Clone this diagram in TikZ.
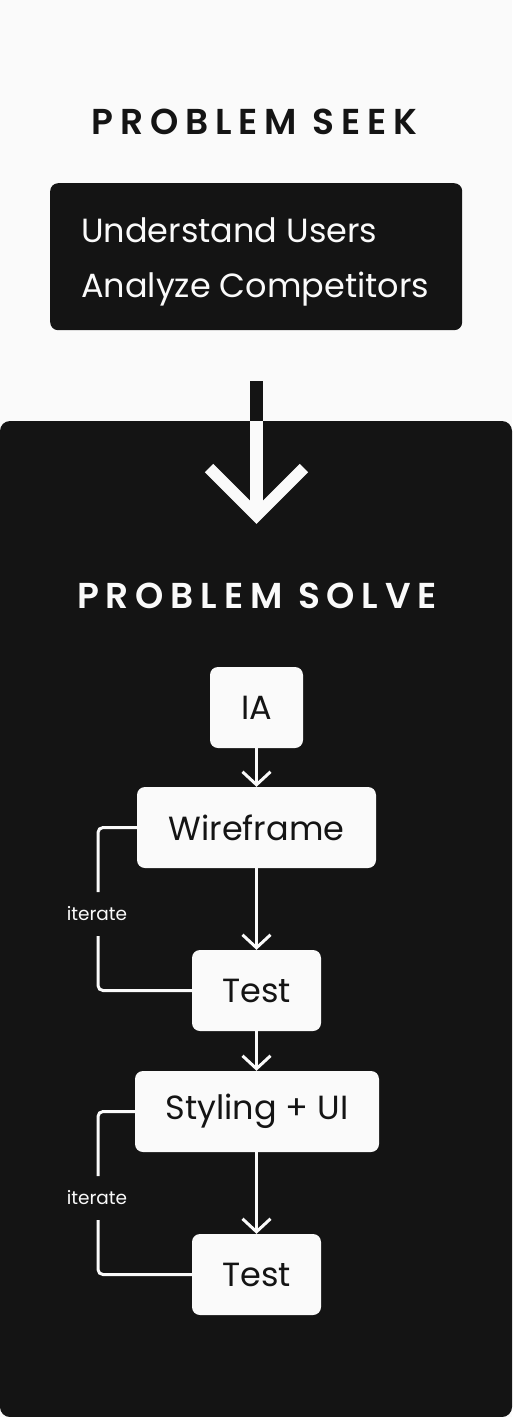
\documentclass[tikz,border=0pt]{standalone}
\usepackage{fontspec}
\setmainfont{Poppins}
\newfontfamily\headfont[LetterSpace=19]{Poppins SemiBold}
\newfontfamily\bodyfont{Poppins}
\usetikzlibrary{arrows.meta}
\definecolor{bgc}{HTML}{FAFAFA}
\definecolor{dark}{HTML}{141414}
\begin{document}
\begin{tikzpicture}[x=1pt,y=-1pt,
  heading/.style={text=dark,font=\headfont\fontsize{36}{42}\selectfont,inner sep=0pt},
  stepbox/.style={fill=bgc,rounded corners=8pt,text=dark,minimum height=81pt,inner sep=0pt,font=\bodyfont\fontsize{33.5}{38}\selectfont},
  flow/.style={draw=bgc,line width=3pt,-{Straight Barb[length=13pt,width=28pt,line width=3pt]}},
  loop/.style={draw=bgc,line width=3pt,rounded corners=5pt},
  loopnote/.style={text=bgc,font=\bodyfont\fontsize{18.5}{22}\selectfont,inner sep=0pt}
]
\useasboundingbox (0,0) rectangle (512,1417);
\fill[bgc] (0,0) rectangle (512,1417);
% dark panel
\fill[dark,rounded corners=10pt] (0,421) rectangle (512,1417);

\node[heading] (seek) at (254.5,122) {PROBLEM SEEK};
\node[fill=dark,rounded corners=8pt,anchor=north west,minimum width=412pt,minimum height=147pt,inner sep=0pt] (users) at (50,183) {};
\node[text=bgc,anchor=west,align=left,inner sep=0pt,font=\bodyfont\fontsize{33.5}{55}\selectfont] (userstext) at ([xshift=31pt,yshift=-5pt]users.west) {Understand Users\\Analyze Competitors};

% big arrow
\coordinate (a0) at (256.5,381);
\coordinate (a1) at (256.5,421);
\coordinate (a2) at (256.5,512);
\coordinate (tipL) at (209,468);
\coordinate (tip) at (256.5,515.5);
\coordinate (tipR) at (304,468);
\draw[dark,line width=12.5pt] (a0) -- (a1);
\draw[bgc,line width=12.5pt] (a1) -- (a2);
\draw[bgc,line width=12pt,miter limit=10] (tipL) -- (tip) -- (tipR);

\node[heading,text=bgc] (solve) at (257,596) {PROBLEM SOLVE};

\node[stepbox,minimum width=93pt] (ia) at (256.5,707.5) {IA};
\node[stepbox,minimum width=239pt] (wire) at (256.5,827.5) {Wireframe};
\node[stepbox,minimum width=129pt] (test1) at (256.5,990.5) {Test};
\node[stepbox,minimum width=244pt] (style) at (257,1111.5) {Styling + UI};
\node[stepbox,minimum width=129pt] (test2) at (256.5,1274.5) {Test};

\draw[flow] (ia.south -| 256.5,0) -- (wire.north -| 256.5,0);
\draw[flow] (wire.south -| 256.5,0) -- (test1.north -| 256.5,0);
\draw[flow] (test1.south -| 256.5,0) -- (style.north -| 256.5,0);
\draw[flow] (style.south -| 256.5,0) -- (test2.north -| 256.5,0);

\node[loopnote] (it1) at (97,914) {iterate};
\node[loopnote] (it2) at (97,1198) {iterate};

\coordinate (l1a) at (98,892);
\coordinate (l1b) at (98,936);
\draw[loop] (wire.west) -- (wire.west -| l1a) -- (l1a);
\draw[loop] (l1b) -- (l1b |- test1.west) -- (test1.west);
\coordinate (l2a) at (98,1176);
\coordinate (l2b) at (98,1220);
\draw[loop] (style.west) -- (style.west -| l2a) -- (l2a);
\draw[loop] (l2b) -- (l2b |- test2.west) -- (test2.west);
\end{tikzpicture}
\end{document}
